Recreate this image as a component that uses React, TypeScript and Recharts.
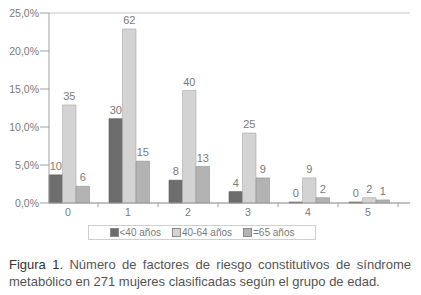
import React from 'react';
import { BarChart, Bar, XAxis, YAxis, CartesianGrid, Legend, LabelList } from 'recharts';

const categories = ['0', '1', '2', '3', '4', '5'];
const under40 = [3.7, 11.1, 3.0, 1.5, 0, 0];
const age40to64 = [12.9, 22.9, 14.8, 9.2, 3.3, 0.7];
const over65 = [2.2, 5.5, 4.8, 3.3, 0.7, 0.4];
const under40Counts = [10, 30, 8, 4, 0, 0];
const age40to64Counts = [35, 62, 40, 25, 9, 2];
const over65Counts = [6, 15, 13, 9, 2, 1];
const yTicks = [0, 5, 10, 15, 20, 25];
const seriesNames = ['<40 años', '40-64 años', '=65 años'];
const colors = ['#6d6d6d', '#d3d3d3', '#b3b3b3'];

const data = categories.map((c, i) => ({
  cat: c,
  a: under40[i],
  b: age40to64[i],
  c: over65[i],
  ac: under40Counts[i],
  bc: age40to64Counts[i],
  cc: over65Counts[i],
}));

const FONT = '"Liberation Sans", Arial, sans-serif';
const TXT = '#7a7a7a';

const XTick = (props: any) => {
  const { x, y, payload } = props;
  return (
    <g>
      <line x1={x + 29} x2={x + 29} y1={y - 8} y2={y - 4} stroke="#a0a0a0" />
      <text x={x - 1} y={y + 5} textAnchor="middle" fontSize={10.5} fill={TXT} fontFamily={FONT}>
        {payload.value}
      </text>
    </g>
  );
};

const ValueLabel = (props: any) => {
  const { x, y, width, value } = props;
  return (
    <text x={x + width / 2} y={y - 5} textAnchor="middle" fontSize={11} fill={TXT} fontFamily={FONT}>
      {value}
    </text>
  );
};

const LegendContent = () => (
  <div style={{ width: 410, display: 'flex', justifyContent: 'center' }}>
    <div
      style={{
        marginLeft: -6,
        width: 228,
        height: 15,
        boxSizing: 'border-box',
        border: '1px solid #cfcfcf',
        display: 'flex',
        alignItems: 'center',
        justifyContent: 'center',
        gap: 11,
        fontFamily: FONT,
        fontSize: 10,
        color: TXT,
      }}
    >
      {seriesNames.map((n, i) => (
        <span key={n} style={{ display: 'flex', alignItems: 'center' }}>
          <span
            style={{
              display: 'inline-block',
              width: 7,
              height: 7,
              background: colors[i],
              border: '1px solid #8a8a8a',
              marginRight: 1,
            }}
          />
          {n}
        </span>
      ))}
    </div>
  </div>
);

export default function App() {
  return (
    <div style={{ position: 'absolute', left: 0, top: 0, width: 421, height: 295, background: '#fff' }}>
      <BarChart
        width={421}
        height={245}
        data={data}
        margin={{ top: 13, right: 11, left: 0, bottom: 5 }}
        barGap={0}
        barSize={13.5}
      >
        <CartesianGrid vertical={false} stroke="#c4c4c4" />
        <XAxis
          dataKey="cat"
          height={22}
          padding={{ left: -10, right: 11 }}
          tick={<XTick />}
          tickLine={false}
          axisLine={{ stroke: '#a0a0a0' }}
          interval={0}
        />
        <YAxis
          yAxisId="l"
          width={49}
          domain={[0, 25]}
          ticks={yTicks}
          tickFormatter={(v: number) => v.toFixed(1).replace('.', ',') + '%'}
          tick={{ fontSize: 10.5, fill: TXT, fontFamily: FONT }}
          tickSize={9}
          tickMargin={1}
          tickLine={{ stroke: '#a0a0a0' }}
          axisLine={{ stroke: '#a0a0a0' }}
        />
        <YAxis
          yAxisId="r"
          orientation="right"
          width={0}
          domain={[0, 25]}
          tick={false}
          tickLine={false}
          axisLine={{ stroke: '#a0a0a0' }}
        />
        <Legend verticalAlign="bottom" content={<LegendContent />} />
        <Bar yAxisId="l" dataKey="a" name={seriesNames[0]} fill={colors[0]} stroke="#5a5a5a" strokeWidth={0.6} minPointSize={1} isAnimationActive={false}>
          <LabelList dataKey="ac" content={<ValueLabel />} />
        </Bar>
        <Bar yAxisId="l" dataKey="b" name={seriesNames[1]} fill={colors[1]} stroke="#a8a8a8" strokeWidth={0.6} isAnimationActive={false}>
          <LabelList dataKey="bc" content={<ValueLabel />} />
        </Bar>
        <Bar yAxisId="l" dataKey="c" name={seriesNames[2]} fill={colors[2]} stroke="#909090" strokeWidth={0.6} isAnimationActive={false}>
          <LabelList dataKey="cc" content={<ValueLabel />} />
        </Bar>
      </BarChart>
      <div style={{ position: 'absolute', left: 9, top: 256, width: 402, fontFamily: FONT, fontSize: 13, color: '#555', lineHeight: '17px' }}>
        <div style={{ textAlign: 'justify', textAlignLast: 'justify', whiteSpace: 'nowrap' as any }}>
          <span style={{ color: '#333' }}>Figura 1.</span> Número de factores de riesgo constitutivos de síndrome
        </div>
        <div>metabólico en 271 mujeres clasificadas según el grupo de edad.</div>
      </div>
    </div>
  );
}
